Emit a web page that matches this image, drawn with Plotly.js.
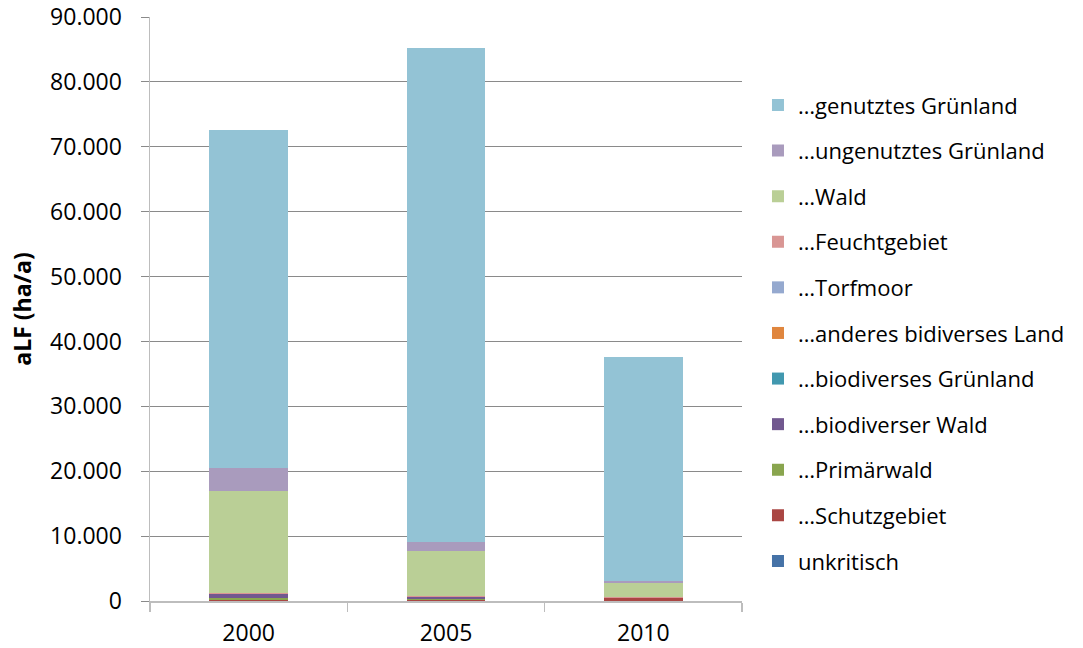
<!DOCTYPE html>
<html>
<head>
<meta charset="utf-8">
<script src="https://cdn.plot.ly/plotly-3.0.1.min.js"></script>
<style>html,body{margin:0;padding:0;background:#fff;}#chart{width:1083px;height:648px;}</style>
</head>
<body>
<div id="chart"></div>
<script>
const years = ['2000', '2005', '2010'];

// series listed bottom-to-top of the stack
const unkritisch        = [0, 0, 0];
const schutzgebiet      = [200, 200, 500];
const primaerwald       = [250, 50, 0];
const biodiverserWald   = [600, 350, 0];
const biodiversesGruen  = [0, 0, 0];
const anderesLand       = [100, 50, 0];
const torfmoor          = [0, 0, 0];
const feuchtgebiet      = [50, 50, 150];
const wald              = [15700, 7000, 2050];
const ungenutztGruen    = [3550, 1400, 350];
const genutztGruen      = [52150, 76100, 34550];

const seriesNames = ['unkritisch', '…Schutzgebiet', '…Primärwald', '…biodiverser Wald',
  '…biodiverses Grünland', '…anderes bidiverses Land', '…Torfmoor', '…Feuchtgebiet',
  '…Wald', '…ungenutztes Grünland', '…genutztes Grünland'];
const seriesValues = [unkritisch, schutzgebiet, primaerwald, biodiverserWald,
  biodiversesGruen, anderesLand, torfmoor, feuchtgebiet, wald, ungenutztGruen, genutztGruen];
const seriesColors = ['#4572A7', '#AA4643', '#89A54E', '#71588F', '#4198AF', '#E0863E',
  '#95A9CF', '#D99694', '#BACF96', '#A99BBD', '#93C3D5'];

const font = 'Open Sans, sans-serif';

const traces = seriesNames.map((n, i) => ({
  type: 'bar',
  name: n,
  x: years,
  y: seriesValues[i],
  marker: {color: seriesColors[i]},
  legendgroup: 'g' + i,
  legendrank: 1000 - i,
  hoverinfo: 'name+y'
}));

const layout = {
  width: 1083, height: 648,
  margin: {l: 150, r: 341, t: 17, b: 47},
  paper_bgcolor: '#fff', plot_bgcolor: '#fff',
  barmode: 'stack',
  bargap: 0.6,
  separators: ',.',
  font: {family: font, size: 23, color: '#000'},
  xaxis: {
    type: 'category',
    showline: true, linecolor: '#BDBDBD', linewidth: 1.5,
    ticks: 'outside', tickson: 'boundaries', ticklen: 9, tickcolor: '#BDBDBD', tickwidth: 1.5,
    showgrid: false,
    tickfont: {family: font, size: 23, color: '#000'},
    ticklabelstandoff: 11
  },
  yaxis: {
    range: [0, 90000], dtick: 10000, tickformat: ',d',
    showline: true, linecolor: '#BDBDBD', linewidth: 1.5,
    ticks: 'outside', ticklen: 8, tickcolor: '#8A8A8A',
    showgrid: true, gridcolor: '#8A8A8A', gridwidth: 1,
    zeroline: false,
    tickfont: {family: font, size: 23, color: '#000'},
    ticklabelstandoff: 14,
    title: {text: '<b>aLF (ha/a)</b>', font: {family: font, size: 23, color: '#000'}, standoff: 12}
  },
  legend: {
    x: 1.027, xanchor: 'left', y: 0.885, yanchor: 'top',
    traceorder: 'grouped',
    tracegroupgap: 14,
    font: {family: font, size: 22, color: '#000'},
    bgcolor: 'rgba(0,0,0,0)'
  },
  showlegend: true
};

Plotly.newPlot('chart', traces, layout, {displayModeBar: false, staticPlot: true});
</script>
</body>
</html>
